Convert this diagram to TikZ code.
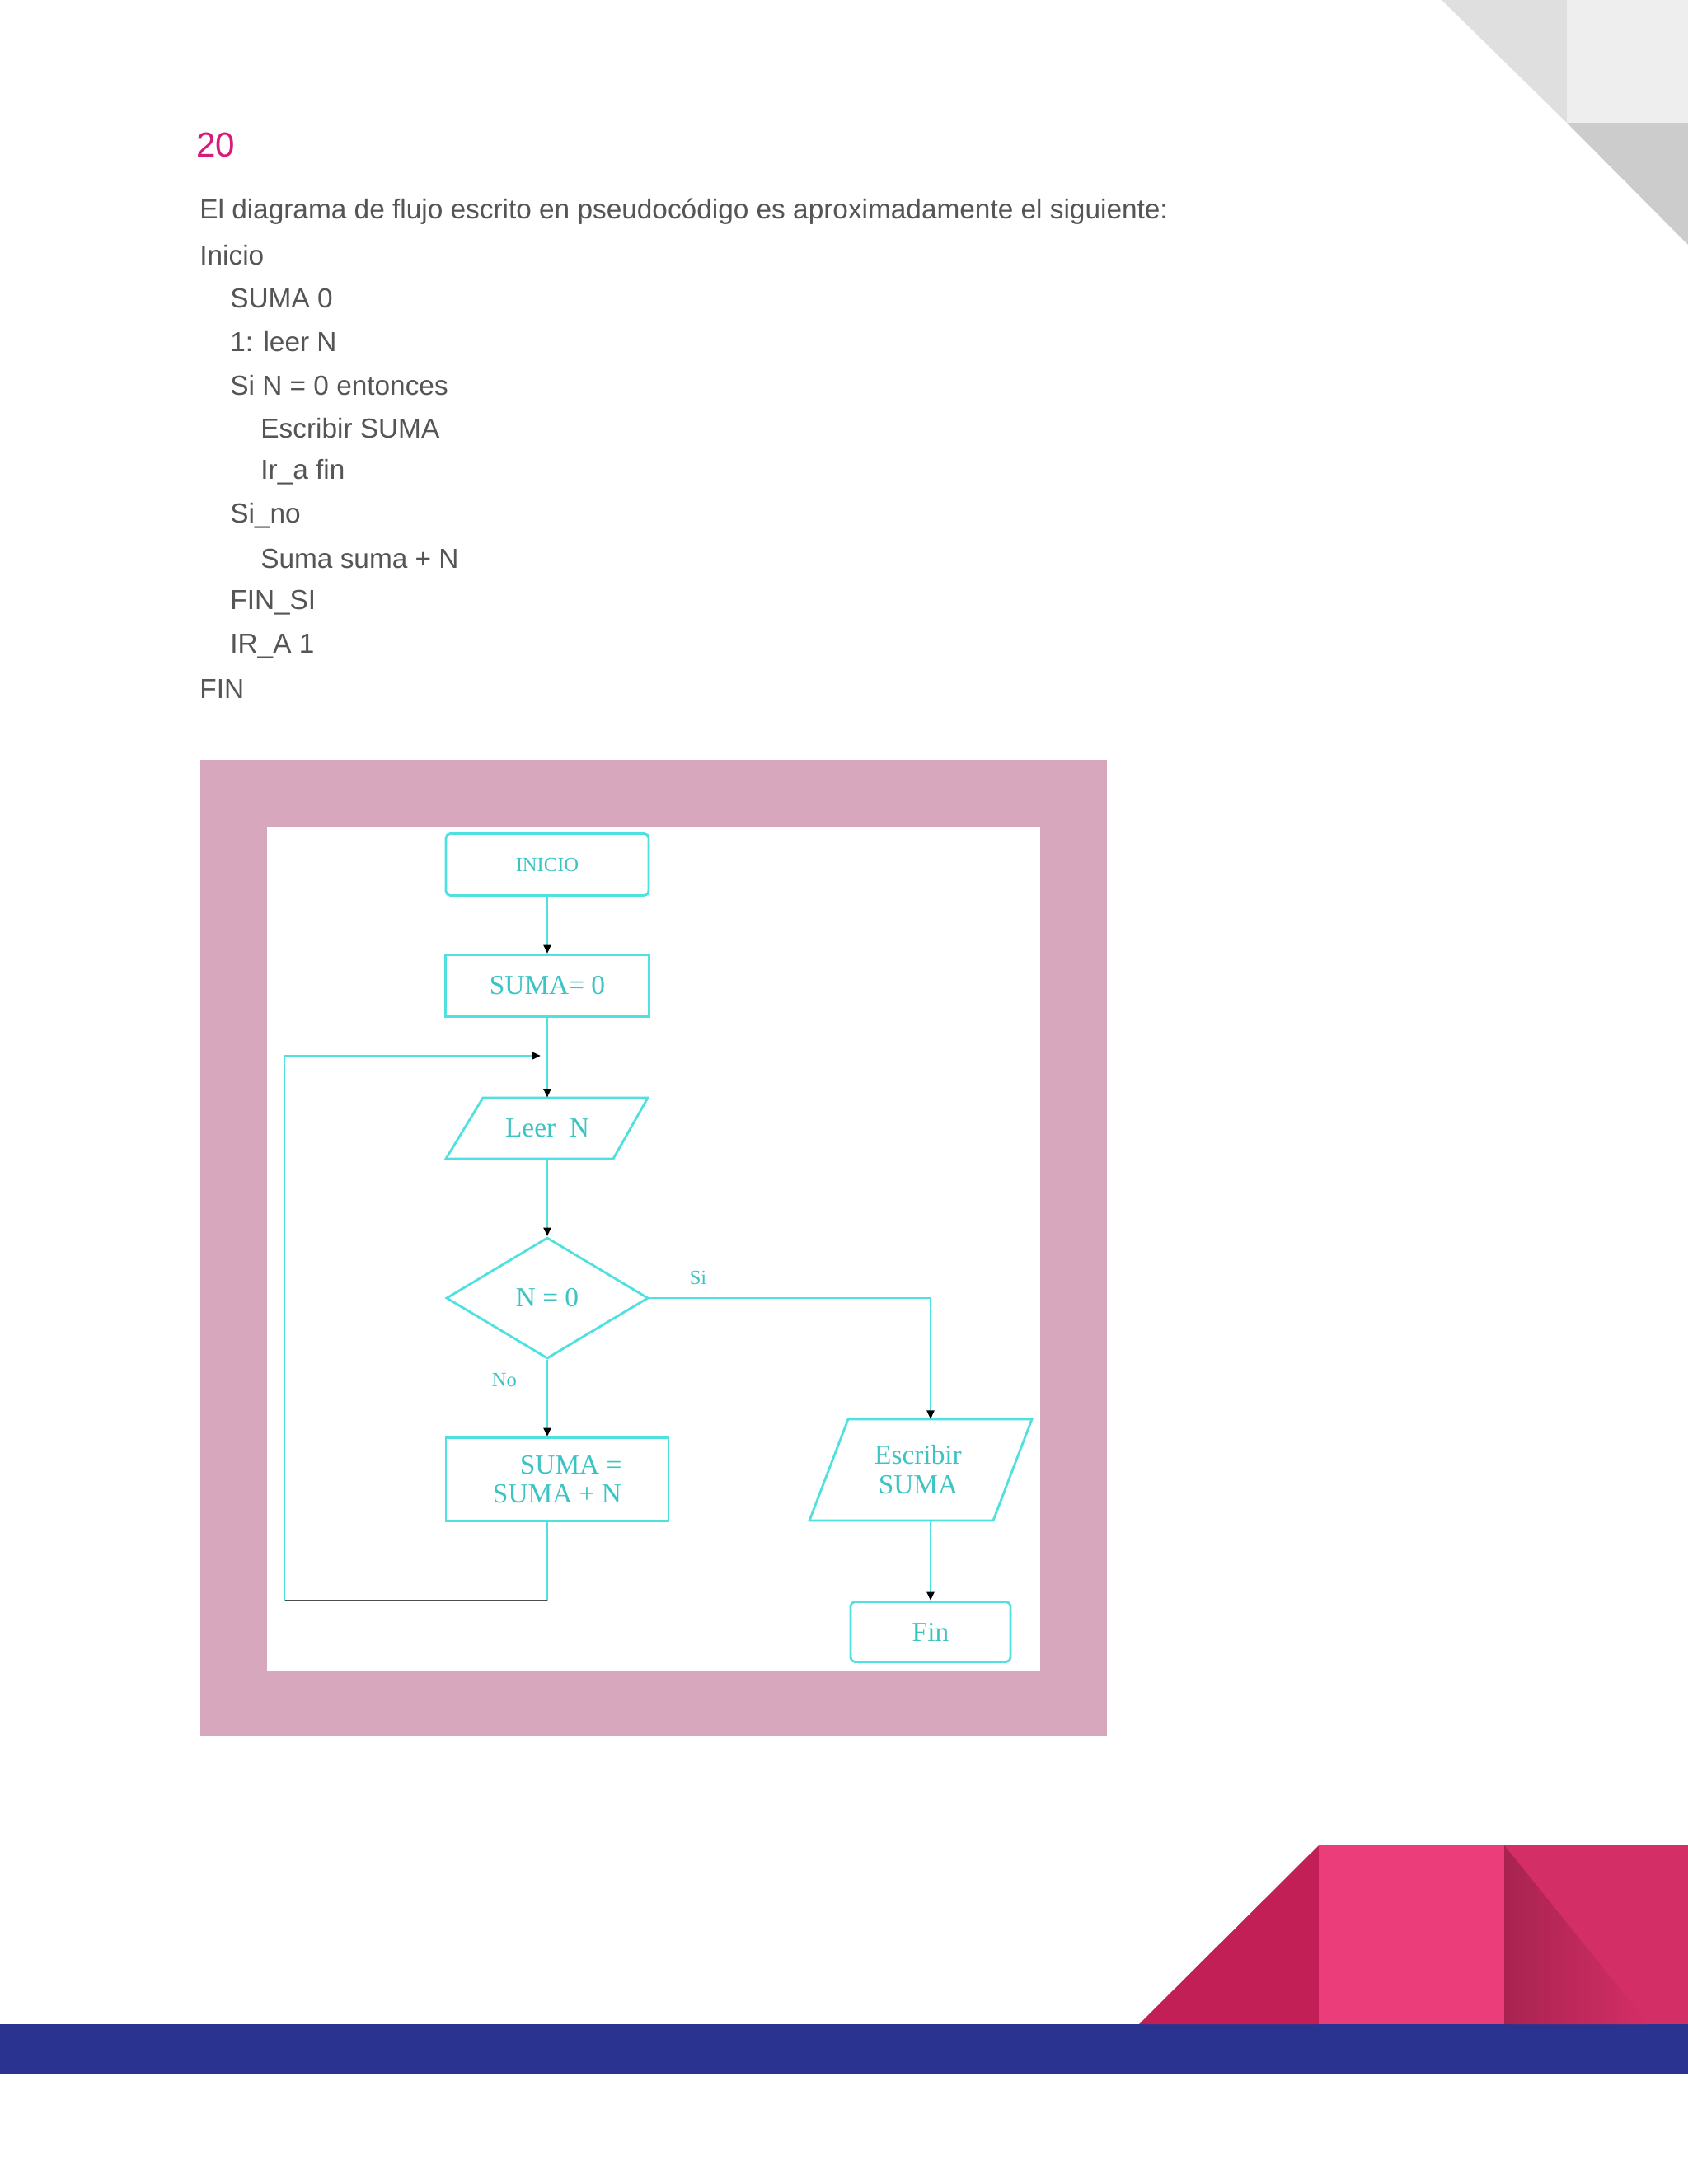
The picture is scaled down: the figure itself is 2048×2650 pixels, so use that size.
\documentclass[tikz,border=0pt]{standalone}
\usepackage{fontspec}
\setmainfont{Liberation Sans}
\newfontfamily\fcfont{Liberation Serif}
\usetikzlibrary{shapes.geometric,arrows.meta}
\definecolor{pg}{HTML}{555555}
\definecolor{pinknum}{HTML}{D81B7A}
\definecolor{frame}{HTML}{D6A7BD}
\definecolor{cy}{HTML}{4FE0E0}
\definecolor{cyt}{HTML}{3CC4C4}
\definecolor{bandblue}{HTML}{2A3390}
\definecolor{pk1}{HTML}{C21F56}
\definecolor{pk2}{HTML}{EB3D7A}
\definecolor{pk3}{HTML}{D42E66}
\definecolor{pk4}{HTML}{A82350}
\tikzset{
  pt/.style={anchor=west,text=pg,font=\fontsize{19}{21}\selectfont,inner sep=0},
  fbox/.style={draw=none,inner sep=0,text=cyt,font=\fcfont\fontsize{19}{20}\selectfont,align=center},
  fline/.style={draw=cy,line width=1.6pt},
  arr/.style={fline,-{Triangle[black,length=6pt,width=5pt]}},
}
\begin{document}
\begin{tikzpicture}[x=0.02cm,y=-0.02cm]
\useasboundingbox (0,0) rectangle (2048,2650);
\fill[white] (0,0) rectangle (2048,2650);
% top-right corner
\fill[gray!25] (1749,0) -- (1901,0) -- (1901,149) -- cycle;
\fill[gray!13] (1901,0) rectangle (2048,149);
\fill[gray!40] (1901,149) -- (2048,149) -- (2048,297) -- cycle;
% bottom decorations
\fill[bandblue] (0,2456) rectangle (2048,2516);
\fill[pk1] (1382,2456) -- (1600,2239) -- (1600,2456) -- cycle;
\fill[pk2] (1600,2239) rectangle (1825,2456);
\fill[pk3] (1825,2239) rectangle (2048,2456);
\shade[left color=pk4, right color=pk3] (1825,2239) -- (2000,2456) -- (1825,2456) -- cycle;
% page text
\node[anchor=west,inner sep=0,text=pinknum,font=\fontsize{24}{26}\selectfont] (num) at (238,176) {20};
\node[pt] (t0) at (242,257) {El diagrama de flujo escrito en pseudocódigo es aproximadamente el siguiente:};
\node[pt] (t1) at (242,310) {Inicio};
\node[pt] (t2) at (279,362) {SUMA 0};
\node[pt] (t3) at (279,415) {1: leer N};
\node[pt] (t4) at (279,468) {Si N = 0 entonces};
\node[pt] (t5) at (316,520) {Escribir SUMA};
\node[pt] (t6) at (316,573) {Ir\_a fin};
\node[pt] (t7) at (279,626) {Si\_no};
\node[pt] (t8) at (316,678) {Suma suma + N};
\node[pt] (t9) at (279,731) {FIN\_SI};
\node[pt] (t10) at (279,784) {IR\_A 1};
\node[pt] (t11) at (242,836) {FIN};
% frame
\fill[frame] (243,922) rectangle (1343,2107);
\fill[white] (324,1003) rectangle (1262,2027);
% flowchart
\node[fbox,minimum width=4.92cm,minimum height=1.5cm,draw=cy,line width=1.6pt,rounded corners=3pt,font=\fcfont\fontsize{14}{15}\selectfont] (ini) at (664,1049) {INICIO};
\node[fbox,minimum width=4.94cm,minimum height=1.5cm,draw=cy,line width=1.6pt] (s0) at (664,1196) {SUMA= 0};
\draw[fline] (586,1332) -- (786,1332) -- (744,1406) -- (541,1406) -- cycle;
\node[fbox,minimum width=3.9cm,minimum height=1.48cm] (leer) at (664,1369) {Leer~~N};
\node[fbox,diamond,minimum width=4.9cm,minimum height=2.94cm,draw=cy,line width=1.6pt] (dec) at (664,1575) {N = 0};
\node[fbox,minimum width=5.4cm,minimum height=2.02cm,draw=cy,line width=1.6pt] (s2) at (676,1795) {~~~~SUMA =\\SUMA + N};
\draw[fline] (1029,1722) -- (1252,1722) -- (1205,1845) -- (982,1845) -- cycle;
\node[fbox,minimum width=4cm,minimum height=2.46cm] (esc) at (1114,1783) {Escribir\\SUMA};
\node[fbox,minimum width=3.88cm,minimum height=1.46cm,draw=cy,line width=1.6pt,rounded corners=3pt] (fin) at (1129,1980) {Fin};
\node[fbox,font=\fcfont\fontsize{14}{15}\selectfont] (lsi) at (847,1550) {Si};
\node[fbox,font=\fcfont\fontsize{14}{15}\selectfont] (lno) at (612,1675) {No};
\coordinate (j) at (656,1281);
\coordinate (jl) at (345,1281);
\coordinate (bl) at (345,1942);
\coordinate (bm) at (664,1942);
\coordinate (r) at (1129,1575);
\coordinate (en) at (1129,1722);
\draw[arr] (ini.south) -- (s0.north);
\draw[arr] (s0.south) -- (leer.north);
\draw[arr] (leer.south) -- (dec.north);
\draw[arr] (dec.south) -- (s2.north -| dec.south);
\draw[fline] (dec.east) -- (r);
\draw[arr] (r) -- (en);
\draw[arr] (en |- esc.south) -- (fin.north);
\draw[fline] (s2.south -| dec.south) -- (bm);
\draw[line width=1.6pt,black!70] (bm) -- (bl);
\draw[arr] (bl) -- (jl) -- (j);
\end{tikzpicture}
\end{document}
